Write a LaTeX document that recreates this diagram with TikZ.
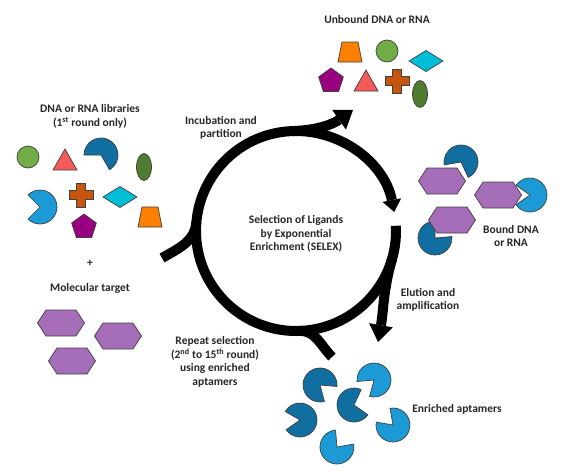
\documentclass[tikz,border=0pt]{standalone}
\usepackage{fontspec}
\setmainfont{Carlito}
\usetikzlibrary{arrows.meta}

\definecolor{ballgreen}{HTML}{70AD47}
\definecolor{trired}{HTML}{F45A5A}
\definecolor{aptdark}{HTML}{106EA0}
\definecolor{aptlight}{HTML}{1C9AD6}
\definecolor{ovalgreen}{HTML}{4E7B2F}
\definecolor{crossorange}{HTML}{C5550F}
\definecolor{kitecyan}{HTML}{00BED7}
\definecolor{traporange}{HTML}{FF7F00}
\definecolor{pentpurple}{HTML}{990080}
\definecolor{hexpurple}{HTML}{A66DB8}

\tikzset{
  lbl/.style={font=\bfseries\fontsize{11.5}{13.5}\selectfont, align=center, inner sep=0pt, text=black!85},
  ring/.style={line width=10pt, black},
  ringtip/.style={-{Triangle[length=12pt,width=19pt,line width=0pt]}},
  bigtip/.style={-{Triangle[length=17pt,width=24pt,line width=0pt]}},
  outl/.style={draw=black!75, line width=0.7pt},
  pics/ball/.style={code={\path[outl, fill=ballgreen] (0,0) circle[radius=11pt];}},
  pics/tri/.style={code={\path[outl, fill=trired] (0,11) -- (-12,-10) -- (12,-10) -- cycle;}},
  pics/oval/.style={code={\path[outl, fill=ovalgreen] (0,0) ellipse[x radius=7.5pt, y radius=13.5pt];}},
  pics/cross/.style={code={\path[outl, fill=crossorange] (-4.5,12) -- (4.5,12) -- (4.5,4.5) -- (12,4.5) -- (12,-4.5) -- (4.5,-4.5)
      -- (4.5,-12) -- (-4.5,-12) -- (-4.5,-4.5) -- (-12,-4.5) -- (-12,4.5) -- (-4.5,4.5) -- cycle;}},
  pics/kite/.style={code={\path[outl, fill=kitecyan] (-17,0) -- (0,10.5) -- (17,0) -- (0,-10.5) -- cycle;}},
  pics/pent/.style={code={\path[outl, fill=pentpurple] (90:13) -- (162:13) -- (234:13) -- (306:13) -- (18:13) -- cycle;}},
  pics/trap/.style={code={\path[outl, fill=traporange] (-12,-10) -- (12,-10) -- (8,10) -- (-8,10) -- cycle;}},
  pics/hexa/.style={code={\path[outl, fill=hexpurple] (-23.5,0) -- (-15,13) -- (15,13) -- (23.5,0) -- (15,-13) -- (-15,-13) -- cycle;}},
  % aptamer: mouth from angle #1 to #2, fill #3
  pics/apt/.style n args={3}{code={\path[outl, fill=#3] (0,0) -- (#2:17) arc[start angle=#2, end angle=#1+360, radius=17pt] -- cycle;}}
}

\begin{document}
\begin{tikzpicture}[x=1pt, y=1pt]
\useasboundingbox (0,0) rectangle (567,-471);

% Labels
\node[lbl] (unbound) at (377,-20) {Unbound DNA or RNA};
\node[lbl] (library) at (90,-116.5) {DNA or RNA libraries\\(1\textsuperscript{st} round only)};
\node[lbl] (plus) at (90,-263) {+};
\node[lbl] (target) at (90,-288) {Molecular target};
\node[lbl] (incub) at (221,-128) {Incubation and\\partition};
\node[lbl] (selex) at (296,-234) {Selection of Ligands\\by Exponential\\Enrichment (SELEX)};
\node[lbl] (bound) at (511,-236) {Bound DNA\\or RNA};
\node[lbl] (elution) at (428,-300) {Elution and\\amplification};
\node[lbl] (repeat) at (215,-362) {Repeat selection\\(2\textsuperscript{nd} to 15\textsuperscript{th} round)\\using enriched\\aptamers};
\node[lbl] (enriched) at (457,-409) {Enriched aptamers};

% Cycle
\coordinate (c) at (296,-231);
\coordinate (intail) at (162,-258);
\coordinate (outtop) at (353,-110);
\coordinate (outdown) at (378,-342);
\coordinate (backin) at (332,-357);
\draw[ring, ringtip] ([shift={(3:100)}]c) arc[start angle=3, end angle=-349, radius=100pt];
\draw[ring] (intail) to[out=30, in=-95] ([shift={(175:100)}]c);
\draw[ring, bigtip] ([shift={(92:100)}]c) to[out=2, in=215] (outtop);
\draw[ring, bigtip] ([shift={(-16:100)}]c) to[out=-106, in=80] (outdown);
\draw[ring] ([shift={(-88:100)}]c) to[out=2, in=135] (backin);

% DNA or RNA libraries
\pic at (28,-157) {ball};
\pic at (65,-160) {tri};
\pic at (101,-155) {apt={180}{300}{aptdark}};
\pic at (144,-167) {oval};
\pic at (40,-207) {apt={135}{225}{aptlight}};
\pic at (81,-195) {cross};
\pic at (120,-197) {kite};
\pic at (84,-227) {pent};
\pic at (150,-217) {trap};

% Unbound DNA or RNA
\pic at (350,-52) {trap};
\pic at (387,-51) {ball};
\pic at (426,-61) {kite};
\pic at (331,-81) {pent};
\pic at (366,-81) {tri};
\pic at (397,-81) {cross};
\pic at (420,-94) {oval};

% Bound DNA or RNA
\pic at (461,-162) {apt={190}{295}{aptdark}};
\pic at (530,-195) {apt={145}{215}{aptlight}};
\pic at (435,-238) {apt={5}{90}{aptdark}};
\foreach \x/\y in {442/181, 498/195, 452/220}
  \pic at (\x,-\y) {hexa};

% Molecular target
\foreach \x/\y in {61/323, 118/336, 72/361}
  \pic at (\x,-\y) {hexa};

% Enriched aptamers
\foreach \x/\y/\a/\b/\c in {320/385/-75/-5/aptdark, 374/380/185/255/aptlight, 354/405/-35/65/aptdark,
    300/420/150/215/aptdark, 393/425/100/170/aptlight, 337/447/10/95/aptlight}
  \pic at (\x,-\y) {apt={\a}{\b}{\c}};

\end{tikzpicture}
\end{document}
